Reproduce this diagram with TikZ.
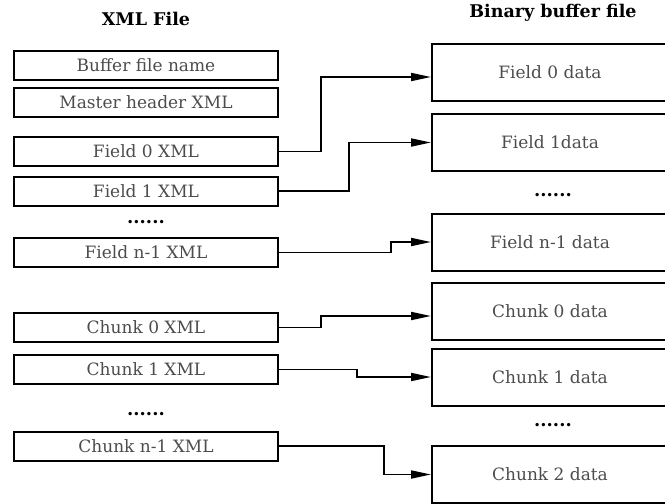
\documentclass[tikz,border=0pt]{standalone}
\usepackage{xcolor}
\usepackage{fontspec}
\setmainfont{DejaVu Serif}
\usepackage{tikz}
\usetikzlibrary{arrows.meta, positioning, calc}
\definecolor{textgray}{rgb}{0.3, 0.3, 0.3}

\begin{document}
\begin{tikzpicture}[x=1pt, y=-1pt,
		every node/.style={text=textgray, font=\fontsize{17}{19}\selectfont},
		xmlbox/.style={draw=black, line width=2pt, minimum width=264pt, minimum height=29pt, inner sep=0pt},
		databox/.style={draw=black, line width=2pt, minimum width=236pt, minimum height=57pt, inner sep=0pt},
		conn/.style={line width=1.8pt, -{Triangle[length=20pt, width=8pt]}},
		title/.style={font=\fontsize{17.5}{20}\selectfont\bfseries, text=black},
		dots/.style={font=\fontsize{18}{20}\selectfont\bfseries, text=black}]
		\pgfmathsetmacro{\lx}{146}
		\pgfmathsetmacro{\rx}{550}
		\clip (0,0) rectangle (665,504);
		% titles
		\node[title] (xmltitle) at (\lx,19) {XML File};
		\node[title] (bintitle) at (553,13) {Binary buffer file};
		% XML file side
		\node[xmlbox] (bfn) at (\lx,65) {Buffer file name};
		\node[xmlbox] (mhx) at (\lx,102) {Master header XML};
		\node[xmlbox] (f0x) at (\lx,151.5) {Field 0 XML};
		\node[xmlbox] (f1x) at (\lx,191) {Field 1 XML};
		\node[dots] (ldots1) at (\lx,222) {......};
		\node[xmlbox] (fnx) at (\lx,252.5) {Field n-1 XML};
		\node[xmlbox] (c0x) at (\lx,327.5) {Chunk 0 XML};
		\node[xmlbox] (c1x) at (\lx,369.5) {Chunk 1 XML};
		\node[dots] (ldots2) at (\lx,414) {......};
		\node[xmlbox] (cnx) at (\lx,446) {Chunk n-1 XML};
		% binary buffer side
		\node[databox] (f0d) at (\rx,72) {Field 0 data};
		\node[databox] (f1d) at (\rx,142.5) {Field 1data};
		\node[dots] (rdots1) at (553,195) {......};
		\node[databox] (fnd) at (\rx,242) {Field n-1 data};
		\node[databox] (c0d) at (\rx,311.5) {Chunk 0 data};
		\node[databox] (c1d) at (\rx,377) {Chunk 1 data};
		\node[dots] (rdots2) at (553,425) {......};
		\node[databox] (c2d) at (\rx,474.5) {Chunk 2 data};
		% connectors
		\draw[conn] (f0x.east) -- ++(42,0) |- ([yshift=-5pt]f0d.west);
		\draw[conn] (f1x.east) -- ++(70,0) |- (f1d.west);
		\draw[conn] (fnx.east) -- ++(112,0) |- (fnd.west);
		\draw[conn] (c0x.east) -- ++(42,0) |- ([yshift=-4.5pt]c0d.west);
		\draw[conn] (c1x.east) -- ++(78,0) |- (c1d.west);
		\draw[conn] (cnx.east) -- ++(105,0) |- (c2d.west);
		\end{tikzpicture}
\end{document}
